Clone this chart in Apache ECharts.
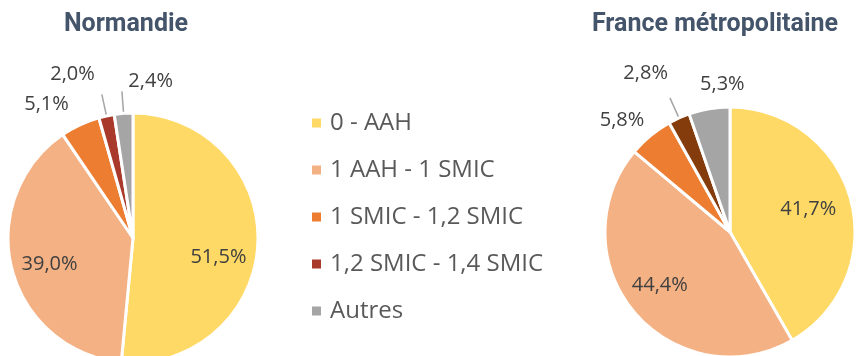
<!DOCTYPE html>
<html>
<head>
<meta charset="utf-8">
<script src="https://cdn.jsdelivr.net/npm/echarts@6/dist/echarts.min.js"></script>
<style>
  html, body { margin: 0; padding: 0; background: #fff; }
  #chart { width: 856px; height: 356px; }
</style>
</head>
<body>
<div id="chart"></div>
<script>
// Income brackets (legend order)
const categories = ['0 - AAH', '1 AAH - 1 SMIC', '1 SMIC - 1,2 SMIC', '1,2 SMIC - 1,4 SMIC', 'Autres'];
// Shares in percent
const normandieValues = [51.5, 39.0, 5.1, 2.0, 2.4];
const franceValues = [41.7, 44.4, 5.8, 2.8, 5.3];
const titles = ['Normandie', 'France métropolitaine'];

const colorsLeft = ['#FFD966', '#F4B183', '#ED7D31', '#A9392A', '#A5A5A5'];
const colorsRight = ['#FFD966', '#F4B183', '#ED7D31', '#843C0C', '#A5A5A5'];

const fmt = v => v.toFixed(1).replace('.', ',') + '%';

// Which small slices get a leader line
const leaderLeft = [false, false, false, true, true];
const leaderRight = [false, false, false, true, false];

function buildData(values, colors, leaders) {
  return values.map((v, i) => ({
    name: categories[i],
    value: v,
    itemStyle: { color: colors[i] },
    label: i < 2 ? { position: 'inside' } : { position: 'outside' },
    labelLine: { show: leaders[i] }
  }));
}

// Per-label nudges [series][dataIndex] = [dx, dy]
const nudges = [
  [[20, 16], [-20, 10], [3, 0], [-2, -20], [56, -10]],
  [[15, -6], [-20, 11], [13, 2], [3, -25], [44, -3]]
];

const baseSeries = {
  type: 'pie',
  radius: 125,
  startAngle: 90,
  clockwise: true,
  avoidLabelOverlap: false,
  itemStyle: { borderColor: '#ffffff', borderWidth: 3 },
  label: {
    formatter: p => fmt(p.value),
    fontFamily: 'Open Sans',
    fontSize: 20,
    color: '#404040'
  },
  labelLine: {
    length: 22,
    length2: 0,
    lineStyle: { color: '#A5A5A5', width: 1.5 }
  },
  emphasis: { disabled: true },
  silent: true
};

const titleStyle = { fontFamily: 'Roboto', fontWeight: 'bold', fontSize: 25, color: '#44546A' };

const chart = echarts.init(document.getElementById('chart'), null, { renderer: 'canvas' });
chart.setOption({
  animation: false,
  title: [
    { text: titles[0], left: 121, top: 7, textAlign: 'center', textStyle: titleStyle },
    { text: titles[1], left: 710, top: 7, textAlign: 'center', textStyle: titleStyle }
  ],
  legend: {
    orient: 'vertical',
    left: 305,
    top: 106,
    itemWidth: 11,
    itemHeight: 11,
    itemGap: 23,
    icon: 'rect',
    data: categories.map((c, i) => ({ name: c, itemStyle: { color: colorsLeft[i] } })),
    textStyle: { fontFamily: 'Open Sans', fontSize: 24, color: '#595959', padding: [0, 0, 0, 3] },
    selectedMode: false
  },
  series: [
    Object.assign({}, baseSeries, {
      center: [133, 238],
      data: buildData(normandieValues, colorsLeft, leaderLeft),
      labelLayout: p => ({ dx: nudges[0][p.dataIndex][0], dy: nudges[0][p.dataIndex][1] })
    }),
    Object.assign({}, baseSeries, {
      center: [730, 232],
      data: buildData(franceValues, colorsRight, leaderRight),
      labelLayout: p => ({ dx: nudges[1][p.dataIndex][0], dy: nudges[1][p.dataIndex][1] })
    })
  ]
});
</script>
</body>
</html>
